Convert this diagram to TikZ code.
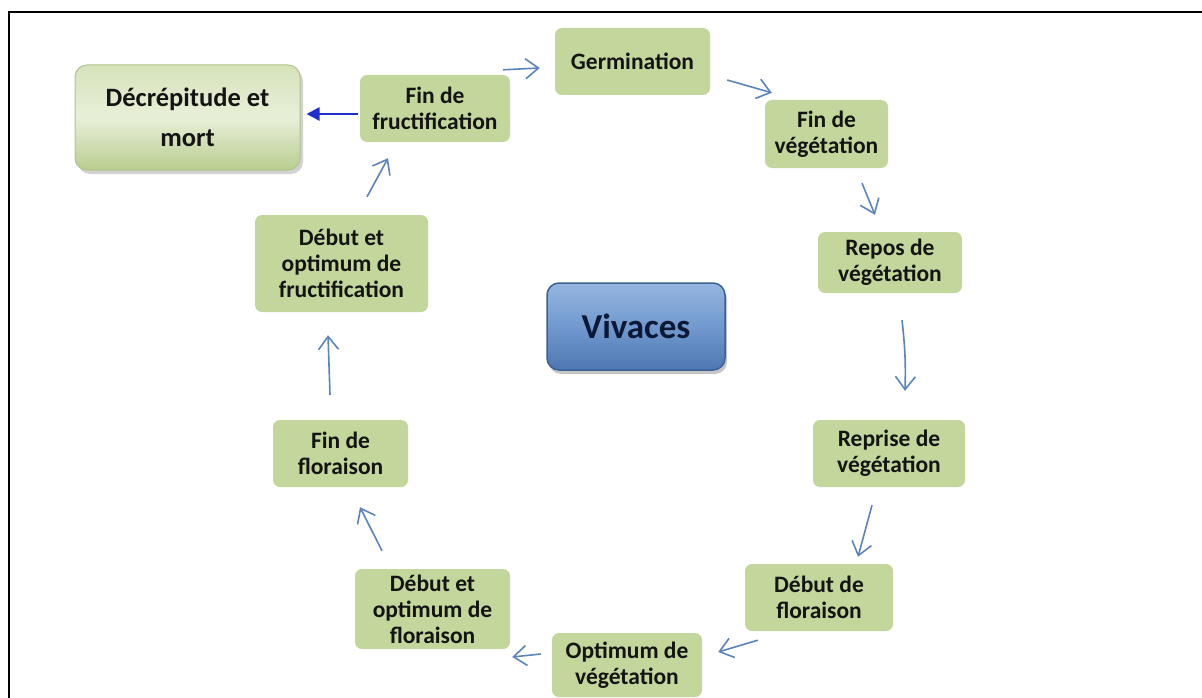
\documentclass[tikz,border=0pt]{standalone}
\usepackage{fontspec}
\setmainfont{Carlito}
\usetikzlibrary{arrows.meta,shadows,calc}
\definecolor{boxgreen}{HTML}{C3D69B}
\definecolor{txt}{HTML}{141414}
\definecolor{arrblue}{HTML}{5B84BE}
\definecolor{deepblue}{HTML}{1F2FCC}
\definecolor{vivtop}{HTML}{96B6E0}
\definecolor{vivmid}{HTML}{7199CF}
\definecolor{vivbot}{HTML}{4E77B2}
\definecolor{vivedge}{HTML}{3A6193}
\definecolor{decrtop}{HTML}{D6E3BB}
\definecolor{decrmid}{HTML}{E8EFD8}
\definecolor{decrbot}{HTML}{B9CD8F}
\definecolor{decredge}{HTML}{AFC487}
\tikzset{
  stagebox/.style={rectangle, rounded corners=7pt, fill=boxgreen, text=txt,
    align=center, inner sep=0pt,
    font=\bfseries\fontsize{23.5}{26}\selectfont},
  cyclearr/.style={draw=arrblue, line width=1.6pt,
    -{Straight Barb[length=13pt,width=20pt,line width=1.6pt]}},
  endarr/.style={draw=deepblue, line width=2.5pt,
    -{Triangle[length=13pt,width=13pt]}},
  decrbox/.style={rectangle, rounded corners=12pt, draw=decredge, line width=1pt,
    top color=decrtop, bottom color=decrbot, middle color=decrmid, text=txt,
    align=center, inner sep=0pt,
    drop shadow={shadow xshift=3pt, shadow yshift=-4pt, fill=black!35},
    font=\bfseries\fontsize{26.5}{40}\selectfont},
  vivbox/.style={rectangle, rounded corners=12pt, draw=vivedge, line width=1.5pt,
    top color=vivtop, bottom color=vivbot, middle color=vivmid, text={rgb,255:red,12;green,24;blue,52},
    align=center, inner sep=0pt,
    drop shadow={shadow xshift=2pt, shadow yshift=-4pt, fill=black!45},
    font=\bfseries\fontsize{35}{40}\selectfont},
  frameline/.style={draw=black, line width=2.5pt}
}
\begin{document}
\begin{tikzpicture}[x=1pt,y=-1pt]
\useasboundingbox (0,0) rectangle (1202,698);
\draw[frameline] (9,700) -- (9,12) -- (1204,12);

\node[decrbox, minimum width=225pt, minimum height=105pt] (decr) at (187.5,117.5) {Décrépitude et\\mort};
\node[vivbox, minimum width=178pt, minimum height=87pt] (viv) at (636,326.5) {Vivaces};

\node[stagebox, minimum width=150pt, minimum height=67pt] (ff) at (435,108.5) {Fin de\\fructification};
\node[stagebox, minimum width=155pt, minimum height=67pt] (germ) at (632.5,61.5) {Germination};
\node[stagebox, minimum width=123pt, minimum height=68pt] (fv) at (826.5,134) {Fin de\\végétation};
\node[stagebox, minimum width=144pt, minimum height=61pt] (repos) at (890,262.5) {Repos de\\végétation};
\node[stagebox, minimum width=152pt, minimum height=67pt] (reprise) at (889,453.5) {Reprise de\\végétation};
\node[stagebox, minimum width=148pt, minimum height=67pt] (dflor) at (819,597.5) {Début de\\floraison};
\node[stagebox, minimum width=150pt, minimum height=64pt] (optv) at (627,665) {Optimum de\\végétation};
\node[stagebox, minimum width=155pt, minimum height=80pt] (dof) at (432.5,609) {Début et\\optimum de\\floraison};
\node[stagebox, minimum width=135pt, minimum height=67pt] (finflor) at (340.5,453.5) {Fin de\\floraison};
\node[stagebox, minimum width=173pt, minimum height=97pt] (dofr) at (341.5,263.5) {Début et\\optimum de\\fructification};

\draw[cyclearr] ($(ff.north east)+(-7,-5)$) -- ($(germ.west)+(-15,6.5)$);
\draw[cyclearr] ($(germ.east)+(17,18.5)$) -- ($(fv.north west)+(7,-7)$);
\draw[cyclearr] ($(fv.south)+(35.5,15)$) -- ($(repos.north)+(-15,-17)$);
\draw[cyclearr] ($(repos.south)+(12,27)$) to[bend left=4] ($(reprise.north)+(16,-29)$);
\draw[cyclearr] ($(reprise.south)+(-17,18)$) -- ($(dflor.north)+(39,-7)$);
\draw[cyclearr] ($(dflor.south west)+(13,9)$) -- ($(optv.east)+(16,-13)$);
\draw[cyclearr] ($(optv.west)+(-11,-11)$) -- ($(dof.east)+(2,48)$);
\draw[cyclearr] ($(dof.north)+(-50.5,-18)$) -- ($(finflor.south)+(19.5,20)$);
\draw[cyclearr] ($(finflor.north)+(-10.5,-25)$) -- ($(dofr.south)+(-13.5,23)$);
\draw[cyclearr] ($(dofr.north)+(25.5,-18)$) -- ($(ff.south)+(-47,16)$);
\draw[endarr] ($(ff.west)+(-2,5.5)$) -- ($(decr.east)+(6,-3.5)$);
\end{tikzpicture}
\end{document}
